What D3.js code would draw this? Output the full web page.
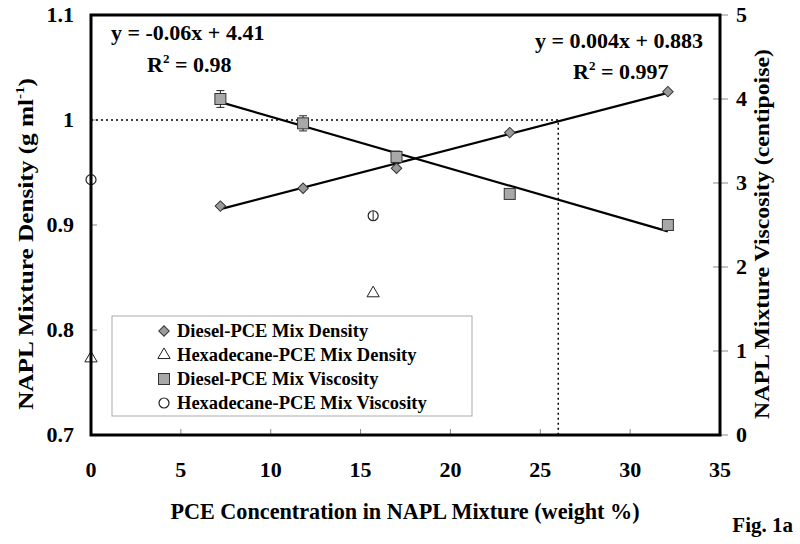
<!DOCTYPE html>
<html><head><meta charset="utf-8">
<script src="https://cdn.jsdelivr.net/npm/d3@7"></script>
<style>body{margin:0;background:#fff}svg{font-family:"Liberation Serif","Times New Roman",serif;font-weight:bold}</style>
</head><body><svg id="c" width="800" height="544"></svg>
<script>
// Data
const dieselX = [7.2, 11.8, 17.0, 23.3, 32.1];
const dieselDensity = [0.918, 0.935, 0.954, 0.988, 1.027];
const dieselViscosity = [4.0, 3.71, 3.31, 2.87, 2.5];
const dieselViscErr = [0.1, 0.09, 0.07, 0, 0];
const hexX = [0, 15.7];
const hexDensity = [0.773, 0.835];
const hexViscosity = [3.04, 2.61];
const hexViscErr = [0.05, 0.06];
const xTicks = [0, 5, 10, 15, 20, 25, 30, 35];
const densTicks = [0.7, 0.8, 0.9, 1.0, 1.1];
const viscTicks = [0, 1, 2, 3, 4, 5];
const refDensity = 1.0, refConc = 26.0;
const legendLabels = ["Diesel-PCE Mix Density","Hexadecane-PCE Mix Density","Diesel-PCE Mix Viscosity","Hexadecane-PCE Mix Viscosity"];

const svg = d3.select("#c");
const L = 91, R = 720, T = 15, B = 435;
const x = d3.scaleLinear().domain([0, 35]).range([L, R]);
const yD = d3.scaleLinear().domain([0.7, 1.1]).range([B, T]);
const yV = d3.scaleLinear().domain([0, 5]).range([B, T]);

// ticks (inside)
const tk = svg.append("g").attr("stroke", "#888").attr("stroke-width", 1);
xTicks.slice(1, -1).forEach(v => tk.append("line").attr("x1", x(v)).attr("x2", x(v)).attr("y1", B).attr("y2", B - 6));
densTicks.slice(1, -1).forEach(v => tk.append("line").attr("x1", L).attr("x2", L + 6).attr("y1", yD(v)).attr("y2", yD(v)));
viscTicks.forEach(v => tk.append("line").attr("x1", R - 7).attr("x2", R + 8).attr("y1", yV(v)).attr("y2", yV(v)));

// tick labels
svg.append("g").selectAll("text").data(xTicks).join("text")
  .attr("x", d => x(d)).attr("y", 477).attr("text-anchor", "middle").attr("font-size", 22).text(d => d);
svg.append("g").selectAll("text").data(densTicks).join("text")
  .attr("x", 74).attr("y", d => yD(d) + 7).attr("text-anchor", "end").attr("font-size", 22).text(d => +d.toFixed(1));
svg.append("g").selectAll("text").data(viscTicks).join("text")
  .attr("x", 736).attr("y", d => yV(d) + 7).attr("text-anchor", "start").attr("font-size", 22).text(d => d);

// dotted reference lines
svg.append("path").attr("fill", "none").attr("stroke", "#000").attr("stroke-width", 1.5).attr("stroke-dasharray", "2,3")
  .attr("d", `M${L},${yD(refDensity)}H${x(refConc)}V${B}`);

// regression lines computed from data
function fit(xs, ys) {
  const mx = d3.mean(xs), my = d3.mean(ys);
  const b = d3.sum(xs.map((v, i) => (v - mx) * (ys[i] - my))) / d3.sum(xs.map(v => (v - mx) ** 2));
  return [b, my - b * mx];
}
const [bD, aD] = fit(dieselX, dieselDensity);
const [bV, aV] = fit(dieselX, dieselViscosity);
const x0 = d3.min(dieselX), x1 = d3.max(dieselX);
svg.append("line").attr("x1", x(x0)).attr("y1", yD(aD + bD * x0)).attr("x2", x(x1)).attr("y2", yD(aD + bD * x1)).attr("stroke", "#000").attr("stroke-width", 2.2);
svg.append("line").attr("x1", x(x0)).attr("y1", yV(aV + bV * x0)).attr("x2", x(x1)).attr("y2", yV(aV + bV * x1)).attr("stroke", "#000").attr("stroke-width", 2.2);

// error bars
function errbar(cx, cy0, cy1) {
  const g = svg.append("g").attr("stroke", "#222").attr("stroke-width", 1);
  g.append("line").attr("x1", cx).attr("x2", cx).attr("y1", cy0).attr("y2", cy1);
  g.append("line").attr("x1", cx - 4).attr("x2", cx + 4).attr("y1", cy0).attr("y2", cy0);
  g.append("line").attr("x1", cx - 4).attr("x2", cx + 4).attr("y1", cy1).attr("y2", cy1);
}
dieselX.forEach((v, i) => { if (dieselViscErr[i] > 0) errbar(x(v), yV(dieselViscosity[i] - dieselViscErr[i]), yV(dieselViscosity[i] + dieselViscErr[i])); });

// markers
const sym = (type, size) => d3.symbol().type(type).size(size)();
function marker(g, kind, cx, cy) {
  if (kind === 0) g.append("path").attr("d", sym(d3.symbolSquare, 55)).attr("transform", `translate(${cx},${cy}) rotate(45)`).attr("fill", "#9a9a9a").attr("stroke", "#333").attr("stroke-width", 1);
  if (kind === 1) g.append("path").attr("d", sym(d3.symbolTriangle, 65)).attr("transform", `translate(${cx},${cy})`).attr("fill", "#fff").attr("stroke", "#222").attr("stroke-width", 1);
  if (kind === 2) g.append("rect").attr("x", cx - 5.5).attr("y", cy - 5.5).attr("width", 11).attr("height", 11).attr("fill", "#a8a8a8").attr("stroke", "#333").attr("stroke-width", 1);
  if (kind === 3) g.append("circle").attr("cx", cx).attr("cy", cy).attr("r", 5).attr("fill", "#fff").attr("stroke", "#222").attr("stroke-width", 1.2);
}
const m = svg.append("g");
dieselX.forEach((v, i) => marker(m, 2, x(v), yV(dieselViscosity[i])));
dieselX.forEach((v, i) => marker(m, 0, x(v), yD(dieselDensity[i])));
hexX.forEach((v, i) => marker(m, 1, x(v), yD(hexDensity[i])));
hexX.forEach((v, i) => marker(m, 3, x(v), yV(hexViscosity[i])));
hexX.forEach((v, i) => { const cx = x(v); svg.append("line").attr("x1", cx).attr("x2", cx).attr("y1", yV(hexViscosity[i] - hexViscErr[i])).attr("y2", yV(hexViscosity[i] + hexViscErr[i])).attr("stroke", "#222").attr("stroke-width", 1); });

// frame
svg.append("rect").attr("x", L).attr("y", T).attr("width", R - L).attr("height", B - T).attr("fill", "none").attr("stroke", "#000").attr("stroke-width", 3);

// legend
const lg = svg.append("g");
lg.append("rect").attr("x", 112).attr("y", 316).attr("width", 360).attr("height", 100).attr("fill", "#fff").attr("stroke", "#aaa").attr("stroke-width", 1);
legendLabels.forEach((t, i) => {
  const cy = 331 + i * 24;
  marker(lg, i, 164, cy);
  lg.append("text").attr("x", 177).attr("y", cy + 6).attr("font-size", 18.5).text(t);
});

// equations
function eq(xp, yp, txt) { svg.append("text").attr("x", xp).attr("y", yp).attr("font-size", 22).text(txt); }
eq(111, 40, "y = -0.06x + 4.41");
const r1 = svg.append("text").attr("x", 147).attr("y", 72).attr("font-size", 22);
r1.append("tspan").text("R");
r1.append("tspan").attr("font-size", 13).attr("dy", -9).text("2");
r1.append("tspan").attr("dy", 9).text(" = 0.98");
eq(535, 48, "y = 0.004x + 0.883");
const r2 = svg.append("text").attr("x", 573).attr("y", 79).attr("font-size", 22);
r2.append("tspan").text("R");
r2.append("tspan").attr("font-size", 13).attr("dy", -9).text("2");
r2.append("tspan").attr("dy", 9).text(" = 0.997");

// axis titles
svg.append("text").attr("x", 405).attr("y", 519).attr("text-anchor", "middle").attr("font-size", 22.2).text("PCE Concentration in NAPL Mixture (weight %)");
function vlabel(cx, cy, len) {
  const t = svg.append("text").attr("text-anchor", "middle").attr("font-size", 22);
  const tmp = t.node();
  return {t, fin() { const w = tmp.getComputedTextLength(); t.attr("transform", `translate(${cx},${cy}) rotate(-90) scale(${len / w},1)`); }};
}
const yl = vlabel(33, 244, 332);
yl.t.append("tspan").text("NAPL Mixture Density (g ml");
yl.t.append("tspan").attr("font-size", 13).attr("dy", -9).text("-1");
yl.t.append("tspan").attr("dy", 9).text(")");
yl.fin();
const yr = vlabel(769, 234, 370);
yr.t.text("NAPL Mixture Viscosity (centipoise)");
yr.fin();
svg.append("text").attr("x", 793).attr("y", 532).attr("text-anchor", "end").attr("font-size", 21).text("Fig. 1a");
</script></body></html>
